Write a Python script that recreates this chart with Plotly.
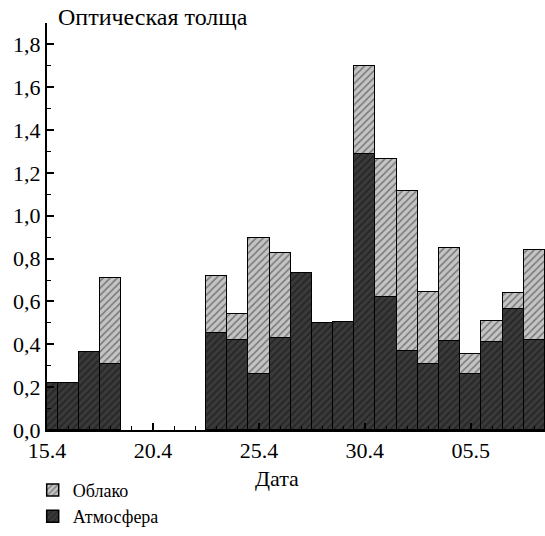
import plotly.graph_objects as go

dates = ["2000-04-15", "2000-04-16", "2000-04-17", "2000-04-18",
         "2000-04-23", "2000-04-24", "2000-04-25", "2000-04-26", "2000-04-27",
         "2000-04-28", "2000-04-29", "2000-04-30", "2000-05-01", "2000-05-02",
         "2000-05-03", "2000-05-04", "2000-05-05", "2000-05-06", "2000-05-07",
         "2000-05-08"]
atmosphere = [0.22, 0.22, 0.365, 0.31, 0.455, 0.42, 0.26, 0.43, 0.735, 0.50,
              0.505, 1.29, 0.62, 0.37, 0.31, 0.415, 0.26, 0.41, 0.565, 0.42]
cloud = [None, None, None, 0.40, 0.265, 0.12, 0.635, 0.395, None, None,
         None, 0.41, 0.645, 0.745, 0.335, 0.435, 0.095, 0.10, 0.075, 0.42]

tick_vals = ["2000-04-15", "2000-04-20", "2000-04-25", "2000-04-30", "2000-05-05"]
tick_text = ["15.4", "20.4", "25.4", "30.4", "05.5"]

FONT = "Liberation Serif"
DAY = 86400000

fig = go.Figure()
fig.add_trace(go.Bar(
    x=dates, y=atmosphere, name="Атмосфера", width=DAY,
    marker=dict(color="#3a3a3a", line=dict(color="black", width=1.5),
                pattern=dict(shape="/", fgcolor="#111111", bgcolor="#3a3a3a",
                             size=5, solidity=0.35)),
))
fig.add_trace(go.Bar(
    x=dates, y=cloud, name="Облако", width=DAY,
    marker=dict(color="#c4c4c4", line=dict(color="black", width=1.5),
                pattern=dict(shape="/", fgcolor="#2a2a2a", bgcolor="#c4c4c4",
                             size=5, solidity=0.3)),
))

fig.update_layout(
    width=545, height=536,
    margin=dict(l=47, r=0, t=23, b=106, autoexpand=False),
    barmode="stack", bargap=0,
    paper_bgcolor="white", plot_bgcolor="white",
    separators=", ",
    font=dict(family=FONT, size=22, color="black"),
    showlegend=True,
    legend=dict(xref="container", yref="container", x=0.06, y=0.12,
                xanchor="left", yanchor="top", traceorder="reversed",
                font=dict(family=FONT, size=18),
                bgcolor="rgba(0,0,0,0)", tracegroupgap=0),
    xaxis=dict(
        type="date",
        range=["2000-04-15", "2000-05-08 12:00"],
        tickmode="array", tickvals=tick_vals, ticktext=tick_text,
        ticks="inside", ticklen=7, tickwidth=1.5, tickcolor="black",
        showline=True, linecolor="black", linewidth=2,
        showgrid=False, zeroline=False,
        minor=dict(dtick=DAY, tick0="2000-04-15", ticks="inside", ticklen=4,
                   tickwidth=1.2, tickcolor="black", showgrid=False),
        tickfont=dict(family=FONT, size=22),
    ),
    yaxis=dict(
        range=[0, 1.9],
        tickmode="linear", tick0=0, dtick=0.2, tickformat=".1f",
        ticks="inside", ticklen=7, tickwidth=1.5, tickcolor="black",
        showline=True, linecolor="black", linewidth=2,
        showgrid=False, zeroline=False,
        minor=dict(dtick=0.1, ticks="inside", ticklen=4, tickwidth=1.2,
                   tickcolor="black", showgrid=False),
        tickfont=dict(family=FONT, size=22),
    ),
    annotations=[
        dict(text="Оптическая толща", xref="paper", yref="paper",
             x=0.018, y=1.015, xanchor="left", yanchor="middle",
             showarrow=False, font=dict(family=FONT, size=24)),
        dict(text="Дата", xref="paper", yref="paper",
             x=0.461, y=-0.12, xanchor="center", yanchor="middle",
             showarrow=False, font=dict(family=FONT, size=22)),
    ],
)

fig.write_html("out.html")
